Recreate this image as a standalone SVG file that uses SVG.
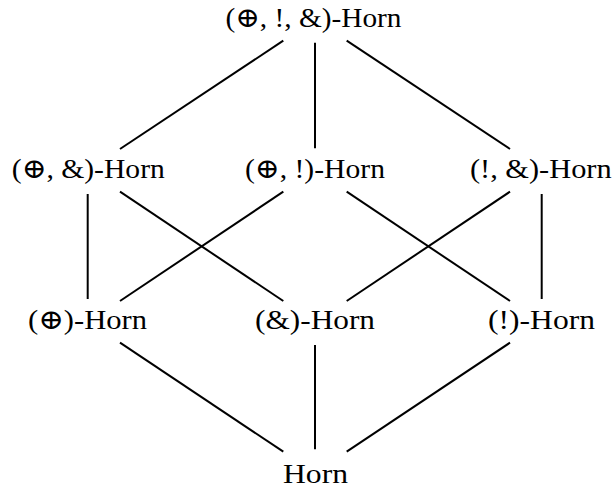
<svg xmlns="http://www.w3.org/2000/svg" width="614" height="491" viewBox="0 0 614 491">
<style>
text{font-family:"Liberation Serif","DejaVu Serif",serif;font-size:28px;fill:#000;text-anchor:middle}
.e line{stroke:#000;stroke-width:2;stroke-linecap:butt}
</style>
<rect width="614" height="491" fill="#fff"/>
<g class="e" id="edges">
<line x1="283.3" y1="40.7" x2="120" y2="149"/>
<line x1="315" y1="42.7" x2="315" y2="148.3"/>
<line x1="346.7" y1="40.7" x2="510" y2="149"/>
<line x1="87.7" y1="194" x2="87.7" y2="299"/>
<line x1="120" y1="191.7" x2="283.3" y2="301"/>
<line x1="283.3" y1="191.7" x2="120" y2="301"/>
<line x1="346.7" y1="191.7" x2="510" y2="301"/>
<line x1="510" y1="191.7" x2="346.7" y2="301"/>
<line x1="541.7" y1="194" x2="541.7" y2="299"/>
<line x1="120" y1="342.7" x2="283.3" y2="451.7"/>
<line x1="315" y1="345" x2="315" y2="449.3"/>
<line x1="510" y1="342.7" x2="346.7" y2="451.7"/>
</g>
<g id="n-top"><text x="313.5" y="27" textLength="176" lengthAdjust="spacingAndGlyphs">(⊕, !, &amp;)-Horn</text></g>
<g id="n-oplus-with"><text x="88.3" y="178" textLength="153" lengthAdjust="spacingAndGlyphs">(⊕, &amp;)-Horn</text></g>
<g id="n-oplus-bang"><text x="315" y="178" textLength="140" lengthAdjust="spacingAndGlyphs">(⊕, !)-Horn</text></g>
<g id="n-bang-with"><text x="540.8" y="178" textLength="141.7" lengthAdjust="spacingAndGlyphs">(!, &amp;)-Horn</text></g>
<g id="n-oplus"><text x="87.5" y="329" textLength="119" lengthAdjust="spacingAndGlyphs">(⊕)-Horn</text></g>
<g id="n-with"><text x="315" y="329" textLength="120" lengthAdjust="spacingAndGlyphs">(&amp;)-Horn</text></g>
<g id="n-bang"><text x="541.5" y="329" textLength="107" lengthAdjust="spacingAndGlyphs">(!)-Horn</text></g>
<g id="n-horn"><text x="315.5" y="483" textLength="65" lengthAdjust="spacingAndGlyphs">Horn</text></g>
</svg>
